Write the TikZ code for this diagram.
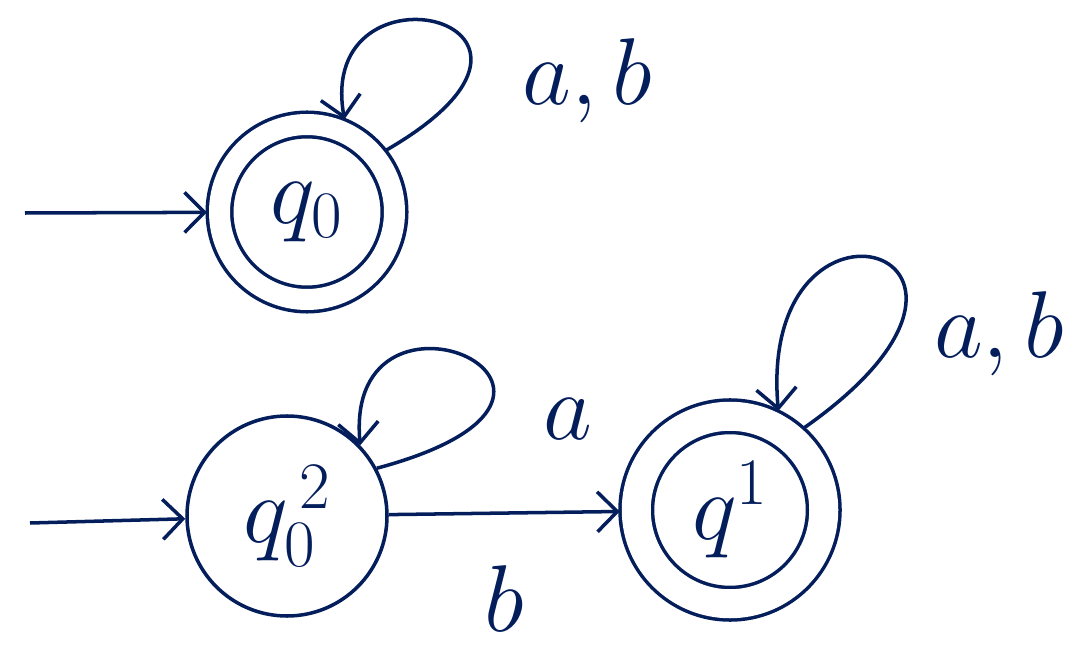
\documentclass[tikz,border=0pt]{standalone}
\usepackage{fix-cm}
\usetikzlibrary{arrows.meta}
\definecolor{ink}{RGB}{4,30,92}

\begin{document}
\begin{tikzpicture}[
    color=ink,
    line width=2pt,
    font=\fontsize{54}{62}\selectfont,
    statenode/.style={circle, draw, minimum size=4cm, inner sep=0pt},
    accepting/.style={double, double distance=0.42cm, outer sep=0.25cm},
    arrow/.style={-{Straight Barb[length=4mm, width=8mm, line width=2pt]}}
]
\useasboundingbox (0,0) rectangle (21.72,12.96);

% States
\node[statenode, accepting, minimum size=3.5cm] (q0) at (6.14,8.72) {$q_0$};
\node[statenode] (q2) at (5.74,2.64) {$q_0^{\,2}$};
\node[statenode, accepting, minimum size=3.75cm, double distance=0.58cm, outer sep=0.33cm] (q1) at (14.6,2.76) {$q^1$};

% Start arrows
\coordinate (s0) at (0.5,8.7);
\coordinate (s2) at (0.6,2.5);
\draw[arrow] (s0) -- (q0);
\draw[arrow] (s2) -- (q2);

% Transitions
\draw[arrow] (q2) -- node[midway, below=0.9cm] {$b$} (q1);
\draw[arrow] (q0.38) .. controls +(30:5.2cm) and +(100:3.4cm) .. (q0.68)
    node[pos=0.2, right=1cm] {$a, b$};
\draw[arrow] (q2.28) .. controls +(15:5.8cm) and +(95:3.8cm) .. (q2.44)
    node[pos=0.2, right=1.1cm] {$a$};
\draw[arrow] (q1.48) .. controls +(35:6.2cm) and +(95:5cm) .. (q1.64)
    node[pos=0.2, right=0.6cm] {$a, b$};

\end{tikzpicture}
\end{document}
